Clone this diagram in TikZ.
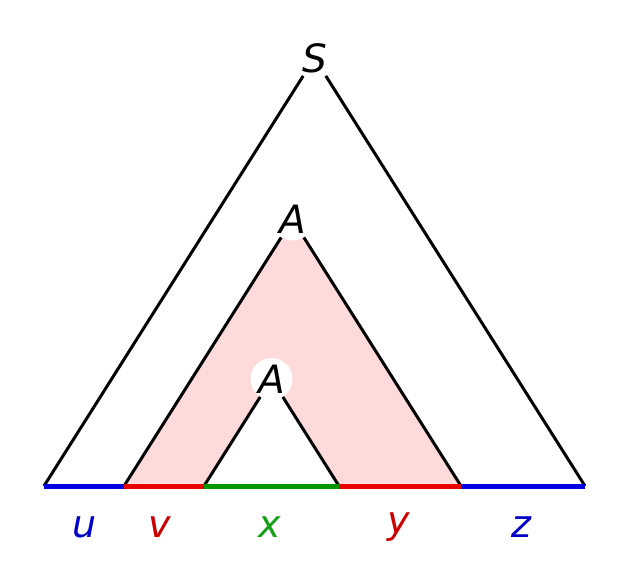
\documentclass[tikz,border=0pt]{standalone}
\usepackage{fontspec}
\setmainfont{DejaVu Sans}
\begin{document}
\begin{tikzpicture}[x=1pt,y=-1pt,
  vertex/.style={circle,fill=white,inner sep=0pt,minimum size=42pt,font=\fontsize{39}{41}\selectfont\itshape},
  side/.style={line width=3pt},
  basepart/.style={line width=5pt},
  lbl/.style={font=\fontsize{38}{40}\selectfont\itshape}]
\definecolor{lb}{RGB}{0,0,225}
\definecolor{lr}{RGB}{230,0,0}
\definecolor{lg}{RGB}{0,150,0}
\definecolor{tb}{RGB}{0,0,200}
\definecolor{tr}{RGB}{205,0,0}
\definecolor{tg}{RGB}{20,160,20}
\definecolor{pinkfill}{RGB}{255,218,218}
\useasboundingbox (0,0) rectangle (625,575);
\coordinate (b1) at (44,486);
\coordinate (b2) at (124,486);
\coordinate (b3) at (204,486);
\coordinate (b4) at (339,486);
\coordinate (b5) at (461,486);
\coordinate (b6) at (585,486);
\coordinate (pS) at (314.5,58);
\coordinate (pA) at (292.5,219.5);
\coordinate (pa) at (271.5,379);
\fill[pinkfill,even odd rule] (b2) -- (pA) -- (b5) -- cycle (b3) -- (pa) -- (b4) -- cycle;
\node[vertex] (S) at (pS) {S};
\node[vertex] (A1) at (pA) {A};
\node[vertex] (A2) at (pa) {A};
\draw[side] (S) -- (b1);
\draw[side] (S) -- (b6);
\draw[side] (A1) -- (b2);
\draw[side] (A1) -- (b5);
\draw[side] (A2) -- (b3);
\draw[side] (A2) -- (b4);
\draw[basepart,lb] (b1) -- (b2);
\draw[basepart,lr] (b2) -- (b3);
\draw[basepart,lg] (b3) -- (b4);
\draw[basepart,lr] (b4) -- (b5);
\draw[basepart,lb] (b5) -- (b6);
\node[lbl,text=tb] (u) at (85,527) {u};
\node[lbl,text=tr] (v) at (160,527) {v};
\node[lbl,text=tg] (x) at (270,527) {x};
\node[lbl,text=tr] (y) at (399,527) {y};
\node[lbl,text=tb] (z) at (521,527) {z};
\end{tikzpicture}
\end{document}
